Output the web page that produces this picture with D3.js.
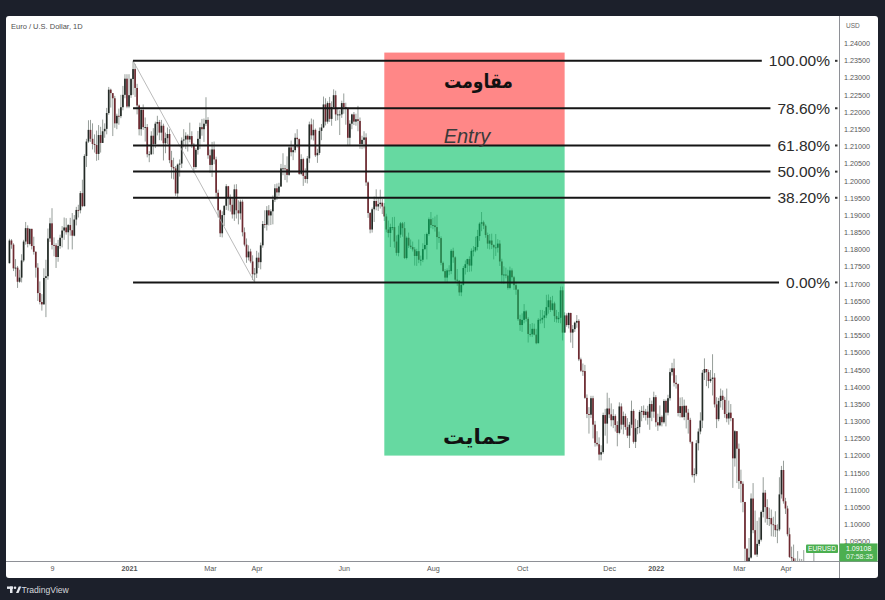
<!DOCTYPE html>
<html><head><meta charset="utf-8">
<script src="https://cdn.jsdelivr.net/npm/d3@7"></script>
<style>body{margin:0;background:#1c202b;overflow:hidden}svg{display:block}</style>
</head><body>
<svg id="c" width="885" height="600"></svg>
<script>
// ---------- DATA ----------
const title = "Euro / U.S. Dollar, 1D";
const startDate = "2020-10-09";
const holidays = ["2020-12-25", "2021-01-01"];
const firstOpen = 1.1760;
const closes = [
1.1826,1.1814,1.1745,1.1747,1.1706,1.1718,1.1768,1.1823,1.1862,1.1816,1.1860,1.1810,1.1793,1.1747,1.1673,1.1647,
1.1640,1.1717,1.1722,1.1832,1.1876,1.1813,1.1812,1.1778,1.1810,1.1834,1.1855,1.1864,1.1850,1.1871,1.1856,1.1840,1.1887,1.1915,1.1914,1.1964,1.1926,
1.2072,1.2114,1.2148,1.2122,1.2107,1.2104,1.2078,1.2133,1.2110,1.2144,1.2151,1.2197,1.2265,1.2255,1.2240,1.2167,1.2189,1.2188,1.2214,1.2250,1.2297,1.2216,
1.2249,1.2296,1.2325,1.2270,1.2219,1.2150,1.2206,1.2156,1.2156,1.2077,1.2077,1.2131,1.2107,1.2166,1.2171,1.2140,1.2160,1.2109,1.2124,1.2136,
1.2060,1.2040,1.2036,1.1963,1.2047,1.2050,1.2117,1.2120,1.2131,1.2120,1.2130,1.2105,1.2040,1.2090,1.2122,1.2156,1.2150,1.2166,1.2177,1.2074,
1.2046,1.2091,1.2062,1.1965,1.1914,1.1847,1.1900,1.1927,1.1984,1.1952,1.1930,1.1902,1.1975,1.1914,1.1905,1.1939,1.1850,1.1814,1.1777,1.1794,1.1765,1.1728,1.1730,
1.1776,1.1763,1.1812,1.1874,1.1872,1.1914,1.1899,1.1911,1.1945,1.1978,1.1966,1.1983,1.2036,1.2036,1.2034,1.2017,1.2097,1.2083,1.2089,1.2125,1.2121,1.2020,
1.2063,1.2014,1.2005,1.2065,1.2164,1.2132,1.2148,1.2074,1.2081,1.2145,1.2155,1.2222,1.2172,1.2226,1.2180,1.2214,1.2249,1.2193,1.2193,1.2193,1.2226,
1.2214,1.2212,1.2125,1.2166,1.2193,1.2172,1.2179,1.2174,1.2107,1.2119,1.2126,1.1995,1.1906,1.1858,1.1917,1.1941,1.1925,1.1932,1.1936,1.1925,1.1896,1.1858,
1.1848,1.1865,1.1865,1.1823,1.1790,1.1843,1.1876,1.1862,1.1775,1.1834,1.1811,1.1807,1.1800,1.1781,1.1795,1.1770,1.1770,1.1801,1.1813,1.1845,1.1888,1.1871,
1.1870,1.1865,1.1836,1.1833,1.1761,1.1737,1.1718,1.1739,1.1737,1.1796,1.1777,1.1712,1.1709,1.1675,1.1697,1.1746,1.1757,1.1772,1.1753,1.1796,1.1797,1.1807,
1.1839,1.1875,1.1879,1.1869,1.1842,1.1817,1.1826,1.1813,1.1806,1.1805,1.1817,1.1765,1.1725,1.1727,1.1724,1.1688,1.1739,1.1719,1.1696,1.1683,1.1597,1.1580,
1.1595,1.1620,1.1598,1.1554,1.1553,1.1569,1.1552,1.1527,1.1595,1.1596,1.1601,1.1608,1.1632,1.1652,1.1624,1.1643,1.1606,1.1597,1.1601,1.1681,1.1558,
1.1608,1.1580,1.1615,1.1558,1.1568,1.1587,1.1592,1.1480,1.1447,1.1446,1.1368,1.1321,1.1319,1.1367,1.1290,1.1237,1.1233,1.1203,1.1210,1.1318,1.1293,1.1337,
1.1320,1.1303,1.1315,1.1289,1.1266,1.1343,1.1290,1.1315,1.1283,1.1258,1.1290,1.1330,1.1240,1.1280,1.1283,1.1327,1.1330,1.1318,1.1328,1.1310,1.1350,1.1328,1.1370,
1.1297,1.1288,1.1313,1.1297,1.1359,1.1325,1.1367,1.1443,1.1454,1.1412,1.1408,1.1324,1.1344,1.1312,1.1345,1.1325,1.1304,1.1240,1.1143,1.1146,1.1236,
1.1270,1.1302,1.1441,1.1452,1.1443,1.1417,1.1423,1.1427,1.1349,1.1306,1.1359,1.1374,1.1362,1.1321,1.1308,1.1325,1.1309,1.1192,1.1271,1.1220,
1.1126,1.1118,1.1065,1.0929,1.0856,1.0903,1.1075,1.0983,1.0912,1.0943,1.0955,1.1036,1.1092,1.1050,1.1016,1.1018,1.1000,1.0998,1.0983,1.0985,1.1087,1.1158,1.1067,
1.1046,1.0971,1.0905,1.0901,1.0880,1.0876,1.0885,1.0829,1.0889,1.0826,1.0810,1.0780,1.0789,1.0852,1.0836];
const highs = [
1.1831,1.1830,1.1818,1.1772,1.1752,1.1741,1.1786,1.1828,1.1880,1.1870,1.1861,1.1860,1.1837,1.1795,1.1760,1.1707,
1.1670,1.1745,1.1770,1.1861,1.1892,1.1920,1.1835,1.1818,1.1828,1.1843,1.1868,1.1893,1.1891,1.1874,1.1892,1.1906,1.1900,1.1924,1.1930,1.1970,1.2003,
1.2077,1.2122,1.2176,1.2177,1.2167,1.2135,1.2146,1.2162,1.2157,1.2178,1.2167,1.2212,1.2273,1.2268,1.2250,1.2247,1.2195,1.2210,1.2250,1.2276,1.2310,1.2310,
1.2310,1.2299,1.2349,1.2340,1.2282,1.2222,1.2213,1.2222,1.2184,1.2165,1.2086,1.2144,1.2153,1.2172,1.2189,1.2177,1.2177,1.2166,1.2140,1.2155,
1.2150,1.2087,1.2067,1.2043,1.2050,1.2062,1.2126,1.2150,1.2141,1.2135,1.2169,1.2144,1.2110,1.2095,1.2145,1.2169,1.2180,1.2181,1.2243,1.2185,
1.2091,1.2113,1.2114,1.2070,1.1974,1.1916,1.1911,1.1929,1.1990,1.1985,1.1960,1.1952,1.1989,1.1990,1.1943,1.1945,1.1945,1.1864,1.1832,1.1812,1.1802,1.1783,1.1746,
1.1796,1.1791,1.1820,1.1883,1.1914,1.1926,1.1929,1.1917,1.1957,1.1990,1.1992,1.1994,1.2049,1.2080,1.2046,1.2071,1.2100,1.2117,1.2100,1.2138,1.2150,1.2123,
1.2077,1.2067,1.2036,1.2072,1.2172,1.2181,1.2178,1.2152,1.2093,1.2155,1.2165,1.2245,1.2240,1.2231,1.2244,1.2231,1.2266,1.2262,1.2211,1.2205,1.2233,
1.2254,1.2227,1.2205,1.2176,1.2195,1.2200,1.2195,1.2218,1.2184,1.2131,1.2144,1.2138,1.1998,1.1909,1.1922,1.1954,1.1975,1.1950,1.1974,1.1947,1.1935,1.1904,
1.1884,1.1875,1.1894,1.1895,1.1841,1.1869,1.1880,1.1880,1.1880,1.1838,1.1849,1.1829,1.1823,1.1807,1.1802,1.1829,1.1782,1.1818,1.1845,1.1849,1.1893,1.1909,
1.1892,1.1896,1.1901,1.1852,1.1838,1.1765,1.1743,1.1745,1.1754,1.1801,1.1805,1.1780,1.1743,1.1710,1.1702,1.1752,1.1768,1.1773,1.1780,1.1803,1.1810,1.1837,
1.1857,1.1879,1.1909,1.1884,1.1873,1.1849,1.1845,1.1846,1.1815,1.1845,1.1830,1.1827,1.1773,1.1751,1.1747,1.1741,1.1750,1.1745,1.1723,1.1706,1.1684,1.1610,
1.1614,1.1641,1.1624,1.1603,1.1583,1.1586,1.1584,1.1569,1.1600,1.1624,1.1624,1.1621,1.1668,1.1669,1.1662,1.1665,1.1648,1.1624,1.1618,1.1692,1.1692,
1.1617,1.1614,1.1617,1.1616,1.1580,1.1590,1.1609,1.1597,1.1485,1.1468,1.1464,1.1378,1.1341,1.1374,1.1374,1.1301,1.1271,1.1253,1.1230,1.1325,1.1336,1.1383,
1.1368,1.1352,1.1335,1.1320,1.1300,1.1355,1.1352,1.1328,1.1322,1.1309,1.1298,1.1360,1.1335,1.1307,1.1303,1.1333,1.1344,1.1346,1.1336,1.1345,1.1368,1.1360,1.1386,
1.1376,1.1322,1.1346,1.1317,1.1364,1.1363,1.1377,1.1454,1.1470,1.1482,1.1434,1.1410,1.1369,1.1370,1.1363,1.1343,1.1336,1.1310,1.1241,1.1163,1.1245,
1.1279,1.1326,1.1449,1.1483,1.1452,1.1450,1.1449,1.1495,1.1440,1.1370,1.1368,1.1395,1.1390,1.1371,1.1395,1.1360,1.1350,1.1308,1.1274,1.1270,
1.1235,1.1159,1.1125,1.1063,1.0930,1.0960,1.1090,1.1120,1.1040,1.1010,1.1020,1.1040,1.1137,1.1100,1.1073,1.1048,1.1043,1.1022,1.1038,1.1000,1.1137,1.1170,1.1185,
1.1077,1.1054,1.0990,1.0935,1.0941,1.0901,1.0922,1.0900,1.0899,1.0925,1.0840,1.0820,1.0805,1.0872,1.0936];
const lows = [
1.1759,1.1802,1.1737,1.1721,1.1688,1.1703,1.1704,1.1763,1.1814,1.1806,1.1812,1.1800,1.1785,1.1718,1.1650,1.1640,
1.1622,1.1640,1.1603,1.1712,1.1822,1.1800,1.1780,1.1746,1.1764,1.1802,1.1806,1.1828,1.1843,1.1800,1.1840,1.1800,1.1838,1.1870,1.1893,1.1905,1.1923,
1.1925,1.2040,1.2110,1.2113,1.2091,1.2082,1.2058,1.2060,1.2082,1.2118,1.2125,1.2135,1.2192,1.2213,1.2130,1.2154,1.2150,1.2163,1.2182,1.2205,1.2240,1.2211,
1.2211,1.2241,1.2250,1.2244,1.2193,1.2132,1.2131,1.2148,1.2114,1.2068,1.2054,1.2075,1.2077,1.2095,1.2132,1.2118,1.2117,1.2059,1.2080,1.2107,
1.2051,1.2006,1.2004,1.1956,1.1952,1.2012,1.2037,1.2097,1.2092,1.2085,1.2112,1.2095,1.2023,1.2035,1.2076,1.2092,1.2131,1.2113,1.2159,1.2064,
1.2023,1.2011,1.2048,1.1950,1.1893,1.1836,1.1835,1.1868,1.1915,1.1913,1.1910,1.1890,1.1883,1.1890,1.1873,1.1887,1.1838,1.1809,1.1761,1.1768,1.1760,1.1711,1.1704,
1.1717,1.1746,1.1742,1.1805,1.1862,1.1855,1.1870,1.1871,1.1873,1.1938,1.1944,1.1956,1.1986,1.2016,1.2002,1.1995,1.2014,1.2071,1.2060,1.2082,1.2096,1.2017,
1.2016,1.1985,1.1994,1.1992,1.2052,1.2120,1.2117,1.2069,1.2052,1.2075,1.2118,1.2153,1.2161,1.2166,1.2171,1.2160,1.2212,1.2174,1.2176,1.2133,1.2183,
1.2195,1.2163,1.2104,1.2103,1.2150,1.2162,1.2160,1.2144,1.2093,1.2092,1.2094,1.1985,1.1892,1.1847,1.1849,1.1880,1.1914,1.1912,1.1919,1.1903,1.1883,1.1850,
1.1835,1.1807,1.1856,1.1805,1.1782,1.1780,1.1834,1.1837,1.1772,1.1771,1.1804,1.1802,1.1794,1.1753,1.1752,1.1760,1.1753,1.1763,1.1798,1.1771,1.1840,1.1862,
1.1859,1.1852,1.1800,1.1819,1.1754,1.1735,1.1706,1.1705,1.1725,1.1728,1.1761,1.1703,1.1694,1.1665,1.1664,1.1695,1.1727,1.1734,1.1735,1.1736,1.1780,1.1792,
1.1797,1.1825,1.1853,1.1859,1.1834,1.1802,1.1800,1.1801,1.1771,1.1781,1.1791,1.1752,1.1701,1.1700,1.1716,1.1683,1.1684,1.1699,1.1682,1.1668,1.1592,1.1563,
1.1560,1.1585,1.1590,1.1529,1.1546,1.1545,1.1550,1.1524,1.1531,1.1584,1.1585,1.1571,1.1600,1.1613,1.1618,1.1622,1.1589,1.1587,1.1586,1.1585,1.1535,
1.1562,1.1575,1.1570,1.1529,1.1513,1.1560,1.1572,1.1475,1.1443,1.1432,1.1365,1.1309,1.1264,1.1309,1.1250,1.1226,1.1227,1.1186,1.1186,1.1205,1.1258,1.1235,
1.1309,1.1285,1.1280,1.1270,1.1227,1.1262,1.1276,1.1262,1.1275,1.1251,1.1222,1.1280,1.1235,1.1222,1.1262,1.1265,1.1300,1.1310,1.1302,1.1290,1.1275,1.1300,1.1310,
1.1284,1.1272,1.1285,1.1285,1.1293,1.1285,1.1317,1.1360,1.1433,1.1401,1.1395,1.1314,1.1311,1.1310,1.1303,1.1279,1.1264,1.1235,1.1137,1.1121,1.1140,
1.1215,1.1262,1.1280,1.1420,1.1402,1.1396,1.1412,1.1375,1.1340,1.1280,1.1300,1.1340,1.1333,1.1310,1.1297,1.1290,1.1300,1.1106,1.1168,1.1120,
1.1103,1.1063,1.1035,1.0890,1.0806,1.0858,1.0900,1.0974,1.0910,1.0905,1.0937,1.0950,1.1020,1.1005,1.0998,1.0995,1.0965,1.0964,1.0963,1.0945,1.0980,1.1075,1.1060,
1.1030,1.0965,1.0902,1.0875,1.0870,1.0838,1.0865,1.0820,1.0808,1.0758,1.0800,1.0760,1.0758,1.0787,1.0826];

const priceTicks = [1.24,1.235,1.23,1.225,1.22,1.215,1.21,1.205,1.20,1.195,1.19,1.185,1.18,1.175,1.17,1.165,1.16,1.155,1.15,1.145,1.14,1.135,1.13,1.125,1.12,1.115,1.11,1.105,1.10,1.095];
const timeTickDates  = ["2020-11-09","2021-01-04","2021-03-01","2021-04-01","2021-06-01","2021-08-02","2021-10-01","2021-12-01","2022-01-03","2022-03-01","2022-04-01"];
const timeTickLabels = ["9","2021","Mar","Apr","Jun","Aug","Oct","Dec","2022","Mar","Apr"];
const boldTicks = ["2021","2022"];

const fibHigh = 1.2349, fibHighDate = "2021-01-06";
const fibLow = 1.1704,  fibLowDate  = "2021-03-31";
const fibRatios = [1, 0.786, 0.618, 0.5, 0.382, 0];
const fibLabels = ["100.00%","78.60%","61.80%","50.00%","38.20%","0.00%"];

const zoneStartDate = "2021-06-29", zoneEndDate = "2021-11-01";
const zoneTop = 1.2373, zoneBottom = 1.1200;   // entry at 61.8% level
const resistanceText = "مقاومت", supportText = "حمایت", entryText = "Entry";
const symbol = "EURUSD", lastPrice = 1.09108, countdown = "07:58:35";

// ---------- BUILD ----------
function tradingDays(start, n, hol) {
  const out = []; const d = new Date(start + "T12:00:00Z");
  while (out.length < n) {
    const wd = d.getUTCDay(), s = d.toISOString().slice(0, 10);
    if (wd !== 0 && wd !== 6 && !hol.includes(s)) out.push(s);
    d.setUTCDate(d.getUTCDate() + 1);
  }
  return out;
}
const n = closes.length;
const dates = tradingDays(startDate, n, holidays);
const idx = s => dates.indexOf(s);
const bars = closes.map((c, i) => {
  const o = i === 0 ? firstOpen : closes[i - 1];
  return { i, o, c, h: Math.max(highs[i], o, c), l: Math.min(lows[i], o, c) };
});

const svg = d3.select("#c");
const P = { l: 6, r: 839, t: 16, b: 561.5, panelR: 878, panelB: 578 };
const FONT = "Liberation Sans, Arial, sans-serif";

const x = d3.scaleLinear().domain([idx("2021-01-04"), idx("2022-04-01")]).range([129, 785.5]);
const y = d3.scaleLinear().domain([1.17, 1.24]).range([283.8, 43.3]);

// panel
svg.append("rect").attr("x", P.l).attr("y", P.t).attr("width", P.panelR - P.l).attr("height", P.panelB - P.t)
  .attr("rx", 3).attr("fill", "#ffffff");

svg.append("defs").append("clipPath").attr("id", "clip")
  .append("rect").attr("x", P.l).attr("y", P.t).attr("width", P.r - P.l).attr("height", P.b - P.t);

const plot = svg.append("g").attr("clip-path", "url(#clip)");

// candles
const cg = plot.append("g");
cg.selectAll("line.w").data(bars).join("line").attr("class", "w")
  .attr("x1", d => x(d.i)).attr("x2", d => x(d.i))
  .attr("y1", d => y(d.h)).attr("y2", d => y(d.l))
  .attr("stroke", "#979e9a").attr("stroke-width", 1);
cg.selectAll("rect.b").data(bars).join("rect").attr("class", "b")
  .attr("x", d => x(d.i) - 0.85).attr("width", 1.7)
  .attr("y", d => y(Math.max(d.o, d.c)))
  .attr("height", d => Math.max(0.9, Math.abs(y(d.o) - y(d.c))))
  .attr("fill", d => d.c >= d.o ? "#232a26" : "#6e2a31");

// diagonal trend line
plot.append("line")
  .attr("x1", x(idx(fibHighDate))).attr("y1", y(fibHigh))
  .attr("x2", x(idx(fibLowDate))).attr("y2", y(fibLow))
  .attr("stroke", "#a9a9a9").attr("stroke-width", 0.8);

// zones
const zx0 = x(idx(zoneStartDate)), zx1 = x(idx(zoneEndDate));
const entry = fibLow + (fibHigh - fibLow) * 0.618;
plot.append("rect").attr("x", zx0).attr("width", zx1 - zx0)
  .attr("y", y(zoneTop)).attr("height", y(entry) - y(zoneTop))
  .attr("fill", "#ff0505").attr("fill-opacity", 0.48);
plot.append("rect").attr("x", zx0).attr("width", zx1 - zx0)
  .attr("y", y(entry)).attr("height", y(zoneBottom) - y(entry))
  .attr("fill", "#00c062").attr("fill-opacity", 0.6);

// fib lines + labels
const fg = svg.append("g");
fibRatios.forEach((r, k) => {
  const p = fibLow + (fibHigh - fibLow) * r, yy = y(p);
  const t = fg.append("text").attr("x", 830).attr("y", yy + 5.5).attr("text-anchor", "end")
    .attr("font-family", FONT).attr("font-size", 15.5)
    .attr("fill", "#2b2b2b").text(fibLabels[k]);
  const w = t.node().getComputedTextLength();
  fg.append("line").attr("x1", x(idx(fibHighDate))).attr("x2", 830 - w - 7)
    .attr("y1", yy).attr("y2", yy).attr("stroke", "#151515").attr("stroke-width", 2);
  fg.append("rect").attr("x", 835).attr("y", yy - 1).attr("width", 2.5).attr("height", 2).attr("fill", "#333");
});

// zone texts
svg.append("text").attr("x", 478.5).attr("y", 88).attr("text-anchor", "middle")
  .attr("font-family", "DejaVu Sans, sans-serif").attr("font-weight", "bold").attr("font-size", 20)
  .attr("textLength", 69).attr("lengthAdjust", "spacingAndGlyphs")
  .attr("fill", "#111").text(resistanceText);
svg.append("text").attr("x", 467).attr("y", 142.5).attr("text-anchor", "middle")
  .attr("font-family", FONT).attr("font-style", "italic").attr("font-size", 20)
  .attr("fill", "#3a3a3a").text(entryText);
svg.append("text").attr("x", 477).attr("y", 444).attr("text-anchor", "middle")
  .attr("font-family", "DejaVu Sans, sans-serif").attr("font-weight", "bold").attr("font-size", 20.5)
  .attr("textLength", 68).attr("lengthAdjust", "spacingAndGlyphs")
  .attr("fill", "#111").text(supportText);

// axes borders
svg.append("line").attr("x1", P.r + 0.5).attr("x2", P.r + 0.5).attr("y1", P.t).attr("y2", P.panelB)
  .attr("stroke", "#8e9096").attr("stroke-width", 1);
svg.append("line").attr("x1", P.l).attr("x2", P.panelR).attr("y1", P.b).attr("y2", P.b)
  .attr("stroke", "#8e9096").attr("stroke-width", 1);

// price axis
const ya = svg.append("g").attr("transform", `translate(${P.r + 5},0)`)
  .call(d3.axisRight(y).tickValues(priceTicks).tickSize(0).tickPadding(0).tickFormat(d3.format(".5f")));
ya.select(".domain").remove();
ya.selectAll("text").attr("font-family", FONT).attr("font-size", 7.2).attr("fill", "#555");
svg.append("text").attr("x", 846).attr("y", 28).attr("font-family", FONT)
  .attr("font-size", 6.5).attr("fill", "#666").text("USD");

// time axis
const xa = svg.append("g").attr("transform", `translate(0,${P.b + 4})`)
  .call(d3.axisBottom(x).tickValues(timeTickDates.map(idx)).tickSize(0).tickPadding(0)
    .tickFormat((d, k) => timeTickLabels[k]));
xa.select(".domain").remove();
xa.selectAll("text").attr("font-family", FONT).attr("font-size", 7.2)
  .attr("fill", "#555").attr("font-weight", (d, k) => boldTicks.includes(timeTickLabels[k]) ? "bold" : "normal");

// title
svg.append("text").attr("x", 11).attr("y", 29).attr("font-family", FONT)
  .attr("font-size", 7.5).attr("fill", "#505050").text(title);

// last price labels
const ly = y(lastPrice);
svg.append("rect").attr("x", 806).attr("y", ly - 10.5).attr("width", 32).attr("height", 8.5).attr("fill", "#4caf50").attr("rx", 1);
svg.append("text").attr("x", 822).attr("y", ly - 3.8).attr("text-anchor", "middle").attr("font-family", FONT)
  .attr("font-size", 6.6).attr("fill", "#fff").text(symbol);
svg.append("rect").attr("x", P.r + 0.5).attr("y", ly - 11.5).attr("width", 38).attr("height", 18).attr("fill", "#4caf50");
svg.append("text").attr("x", 846).attr("y", ly - 3.8).attr("font-family", FONT)
  .attr("font-size", 7).attr("fill", "#fff").text(lastPrice.toFixed(5));
svg.append("text").attr("x", 846).attr("y", ly + 4.2).attr("font-family", FONT)
  .attr("font-size", 7).attr("fill", "#e8f5e9").text(countdown);

// TradingView logo
const lg = svg.append("g").attr("fill", "#e6e8ee");
lg.append("rect").attr("x", 7).attr("y", 586.5).attr("width", 6).attr("height", 2.4);
lg.append("rect").attr("x", 10).attr("y", 586.5).attr("width", 2.5).attr("height", 6.5);
lg.append("circle").attr("cx", 15).attr("cy", 587.8).attr("r", 1.3);
lg.append("polygon").attr("points", "16,593 18.8,586.5 21.3,586.5 18.5,593");
svg.append("text").attr("x", 21.5).attr("y", 593.2).attr("font-family", FONT)
  .attr("font-size", 8.6).attr("fill", "#d6d8de").text("TradingView");
</script>
</body></html>
